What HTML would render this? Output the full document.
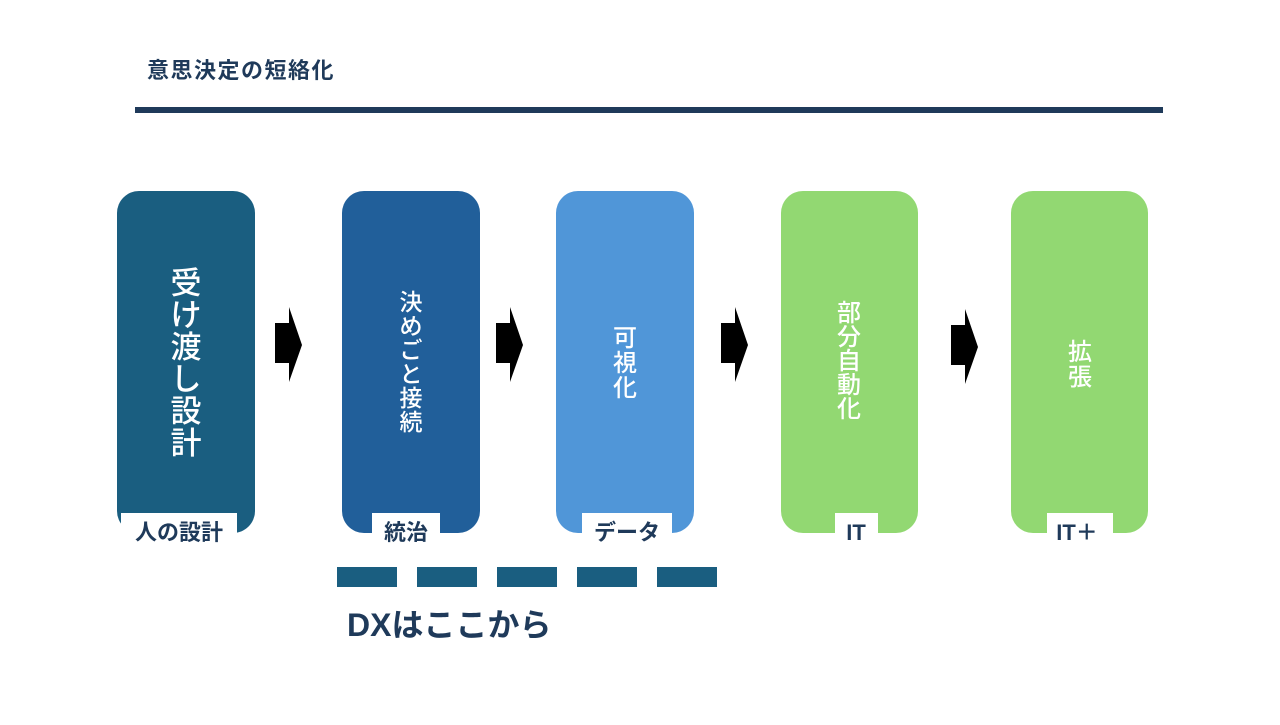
<!DOCTYPE html>
<html><head><meta charset="utf-8"><style>
body{margin:0;width:1280px;height:720px;background:#fff;overflow:hidden}
svg text{font-family:"Liberation Sans","Noto Sans CJK JP",sans-serif}
</style></head><body>
<svg width="1280" height="720" viewBox="0 0 1280 720">
<text x="147" y="78" font-size="22" font-weight="bold" letter-spacing="1.5" fill="#1f3a5a">意思決定の短絡化</text>
<rect x="135" y="107" width="1028" height="6" fill="#1f3a5a"/>

<rect x="117" y="191" width="138" height="342" rx="22" fill="#1a5e80"/>
<rect x="342" y="191" width="138" height="342" rx="22" fill="#215f9a"/>
<rect x="556" y="191" width="138" height="342" rx="22" fill="#5096d8"/>
<rect x="781" y="191" width="137" height="342" rx="22" fill="#92d872"/>
<rect x="1011" y="191" width="137" height="342" rx="22" fill="#92d872"/>

<g fill="#fff" text-anchor="middle" font-weight="500">
<text x="186" font-size="31"><tspan x="186" y="294">受</tspan><tspan x="186" y="326">け</tspan><tspan x="186" y="358">渡</tspan><tspan x="186" y="390">し</tspan><tspan x="186" y="422">設</tspan><tspan x="186" y="454">計</tspan></text>
<text font-size="23"><tspan x="411" y="310">決</tspan><tspan x="411" y="334">め</tspan><tspan x="411" y="358">ご</tspan><tspan x="411" y="382">と</tspan><tspan x="411" y="406">接</tspan><tspan x="411" y="430">続</tspan></text>
<text font-size="24"><tspan x="625" y="346">可</tspan><tspan x="625" y="371">視</tspan><tspan x="625" y="396">化</tspan></text>
<text font-size="24"><tspan x="849" y="321">部</tspan><tspan x="849" y="345">分</tspan><tspan x="849" y="369">自</tspan><tspan x="849" y="393">動</tspan><tspan x="849" y="417">化</tspan></text>
<text font-size="24"><tspan x="1080" y="360">拡</tspan><tspan x="1080" y="385">張</tspan></text>
</g>

<g fill="#fff">
<rect x="121" y="513" width="116" height="35"/>
<rect x="372" y="513" width="68" height="35"/>
<rect x="582" y="513" width="90" height="35"/>
<rect x="835" y="513" width="43" height="35"/>
<rect x="1047" y="513" width="66" height="35"/>
</g>
<g fill="#1f3a5a" font-size="22" font-weight="bold" text-anchor="middle">
<text x="179" y="540">人の設計</text>
<text x="406" y="540">統治</text>
<text x="627" y="540">データ</text>
<text x="856" y="540">IT</text>
<text x="1077" y="540">IT＋</text>
</g>

<g fill="#000">
<path d="M275 323H289V307L302 345L289 382V363H275Z"/>
<path d="M496 323H510V307L523 345L510 382V363H496Z"/>
<path d="M721 323H735V307L748 345L735 382V363H721Z"/>
<path d="M951 325H965V309L978 347L965 384V365H951Z"/>
</g>

<g fill="#1a5e80">
<rect x="337" y="567" width="60" height="20"/>
<rect x="417" y="567" width="60" height="20"/>
<rect x="497" y="567" width="60" height="20"/>
<rect x="577" y="567" width="60" height="20"/>
<rect x="657" y="567" width="60" height="20"/>
</g>
<text x="347" y="636" font-size="32" font-weight="bold" fill="#1f3a5a">DXはここから</text>
</svg>
</body></html>
